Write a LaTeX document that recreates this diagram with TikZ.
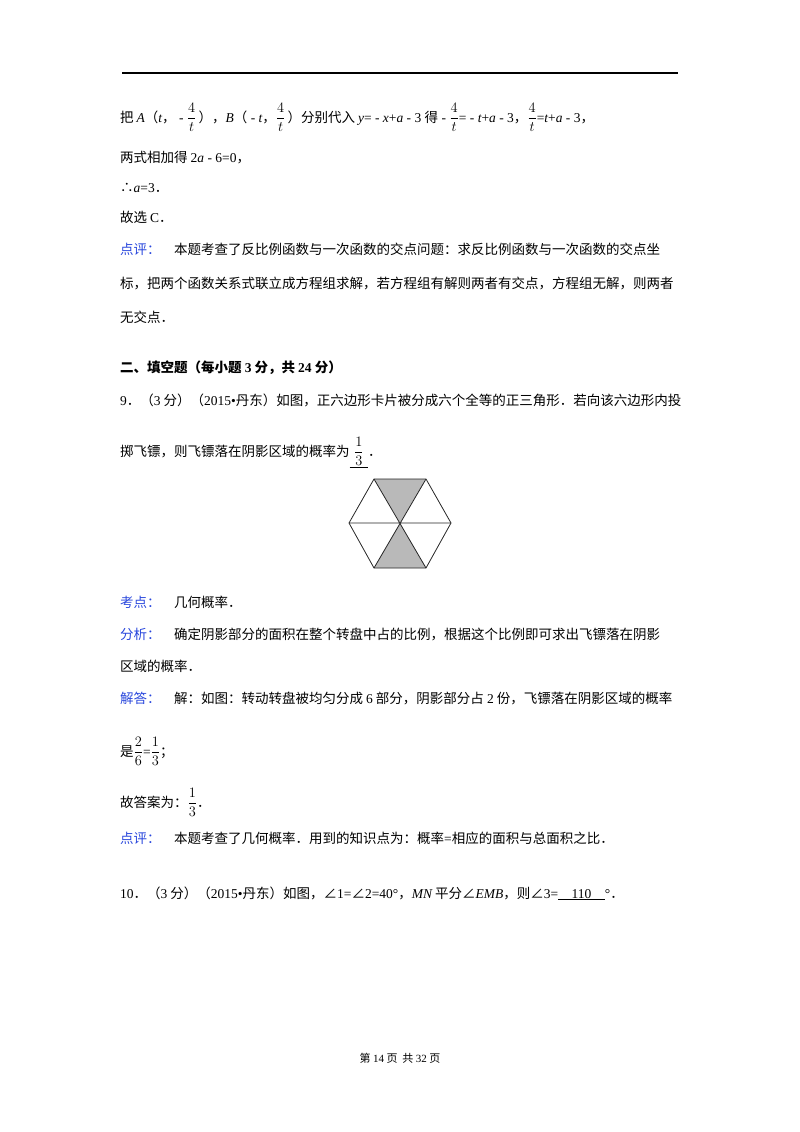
\documentclass[tikz,border=0pt]{standalone}
\usepackage{fontspec}
\setmainfont{Noto Sans CJK SC}
\newfontfamily\lat{Liberation Serif}
\newcommand\ii[1]{{\lat\itshape #1}}
\newcommand\rr[1]{{\lat #1}}
\newcommand\fr[2]{$\displaystyle\frac{#1}{#2}$}
\definecolor{lblue}{RGB}{40,70,220}
\newcommand\lb[1]{\textcolor{lblue}{#1}}
\begin{document}
\begin{tikzpicture}[x=1pt,y=-1pt,
  ln/.style={anchor=base west,inner sep=0pt,font=\fontsize{13.5}{14}\selectfont}]
\useasboundingbox (0,0) rectangle (800,1132);
\draw[line width=1.2pt] (122,73) -- (678,73);
\node[ln] (l1) at (120,122) {把 \ii{A}（\ii{t}，\rr{ - }\fr{4}{t}\,），\ii{B}（\rr{ - }\ii{t}，\fr{4}{t}\,）分别代入 \ii{y}\rr{= - }\ii{x}\rr{+}\ii{a}\rr{ - 3 }得\rr{ - }\fr{4}{t}\rr{= - }\ii{t}\rr{+}\ii{a}\rr{ - 3}，\fr{4}{t}\rr{=}\ii{t}\rr{+}\ii{a}\rr{ - 3}，};
\node[ln] (l2) at (120,162) {两式相加得 \rr{2}\ii{a}\rr{ - 6=0}，};
\node[ln] (l3) at (120,192) {∴\ii{a}\rr{=3}．};
\node[ln] (l4) at (120,222) {故选 \rr{C}．};
\node[ln] (l5) at (120,254) {\lb{点评：}\quad 本题考查了反比例函数与一次函数的交点问题：求反比例函数与一次函数的交点坐};
\node[ln] (l6) at (120,288) {标，把两个函数关系式联立成方程组求解，若方程组有解则两者有交点，方程组无解，则两者};
\node[ln] (l7) at (120,322) {无交点．};
\node[ln] (h2) at (120,372) {\bfseries 二、填空题（每小题 \rr{\bfseries 3} 分，共 \rr{\bfseries 24} 分）};
\node[ln] (q9) at (120,405) {\rr{9}．（\rr{3} 分）（\rr{2015•}丹东）如图，正六边形卡片被分成六个全等的正三角形．若向该六边形内投};
\node[ln] (q9b) at (120,456) {掷飞镖，则飞镖落在阴影区域的概率为\underline{\,\,\fr{1}{3}\,\,}．};
% hexagon
\coordinate (O) at (400,523);
\coordinate (A) at (374,479); \coordinate (B) at (426,479);
\coordinate (C) at (451,523); \coordinate (D) at (426,568);
\coordinate (E) at (374,568); \coordinate (F) at (349,523);
\fill[gray!55] (A) -- (B) -- (O) -- cycle;
\fill[gray!55] (E) -- (D) -- (O) -- cycle;
\draw[line width=0.8pt,gray!30!black] (A) -- (B) -- (C) -- (D) -- (E) -- (F) -- cycle;
\draw[line width=0.8pt,gray!30!black] (A) -- (D) (B) -- (E) (F) -- (C);
\node[ln] (k1) at (120,607) {\lb{考点：}\quad 几何概率．};
\node[ln] (k2) at (120,639) {\lb{分析：}\quad 确定阴影部分的面积在整个转盘中占的比例，根据这个比例即可求出飞镖落在阴影};
\node[ln] (k3) at (120,671) {区域的概率．};
\node[ln] (k4) at (120,703) {\lb{解答：}\quad 解：如图：转动转盘被均匀分成 \rr{6} 部分，阴影部分占 \rr{2} 份，飞镖落在阴影区域的概率};
\node[ln] (k5) at (120,756) {是\fr{2}{6}\rr{=}\fr{1}{3}；};
\node[ln] (k6) at (120,807) {故答案为：\fr{1}{3}．};
\node[ln] (k7) at (120,843) {\lb{点评：}\quad 本题考查了几何概率．用到的知识点为：概率\rr{=}相应的面积与总面积之比．};
\node[ln] (q10) at (120,898) {\rr{10}．（\rr{3} 分）（\rr{2015•}丹东）如图，∠\rr{1=}∠\rr{2=40°}，\ii{MN} 平分∠\ii{EMB}，则∠\rr{3=}\underline{\rr{\quad 110\quad}}\rr{°}．};
\node[anchor=base,inner sep=0pt,font=\fontsize{11}{12}\selectfont] (ft) at (400,1062) {第 \rr{14} 页\ \ 共 \rr{32} 页};
\end{tikzpicture}
\end{document}
